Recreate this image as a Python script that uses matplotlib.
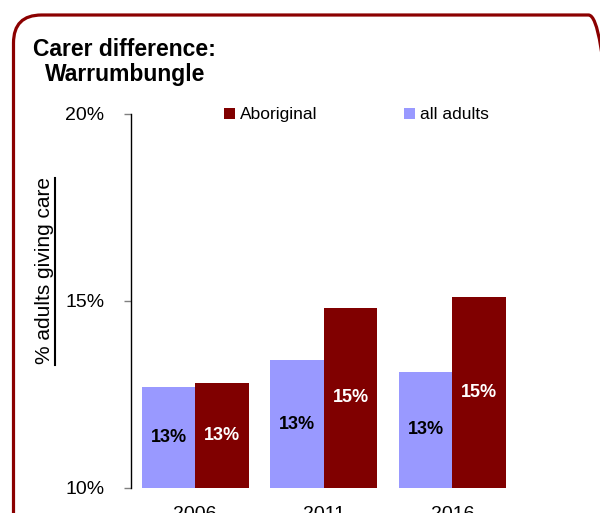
import matplotlib
matplotlib.use("Agg")
import matplotlib.pyplot as plt
from matplotlib.patches import FancyBboxPatch
from matplotlib.lines import Line2D
from matplotlib.transforms import IdentityTransform
import numpy as np

plt.rcParams['font.family'] = ['Liberation Sans', 'DejaVu Sans']

years = ["2006", "2011", "2016"]
all_adults = [12.7, 13.4, 13.1]
aboriginal = [12.8, 14.8, 15.1]
y_ticks = [10, 15, 20]

purple = "#9999FF"
maroon = "#800000"

W, H = 600, 513
fig = plt.figure(figsize=(W / 100, H / 100), dpi=100)

# rounded frame around the whole panel (pixel coordinates, origin bottom-left)
frame = FancyBboxPatch((13.5, H - 545), 603, 530,
                       boxstyle="round,pad=0,rounding_size=28",
                       transform=IdentityTransform(), fill=False,
                       edgecolor="#8B0000", linewidth=2.3, clip_on=False)
fig.patches.append(frame)

ax = fig.add_axes([131 / W, 25.3 / H, 385.5 / W, 374.2 / H])

x = np.arange(len(years))
w = 0.416
b1 = ax.bar(x - w / 2, [v - 10 for v in all_adults], w, bottom=10,
            color=purple, label="all adults")
b2 = ax.bar(x + w / 2, [v - 10 for v in aboriginal], w, bottom=10,
            color=maroon, label="Aboriginal")

for xi, v in zip(x - w / 2, all_adults):
    ax.text(xi, (10 + v) / 2, f"{v:.0f}%", ha="center", va="center",
            fontsize=13, fontweight="bold", color="black")
for xi, v in zip(x + w / 2, aboriginal):
    ax.text(xi, (10 + v) / 2, f"{v:.0f}%", ha="center", va="center",
            fontsize=13, fontweight="bold", color="white")

ax.set_xlim(-0.5, 2.5)
ax.set_ylim(10, 20)
ax.set_yticks(y_ticks)
ax.set_yticklabels([f"{t}%" for t in y_ticks], fontsize=14)
ax.set_xticks(x)
ax.set_xticklabels(years, fontsize=14)
ax.tick_params(axis="y", direction="out", length=5, width=1, color="#808080", pad=14)
ax.tick_params(axis="x", length=0, pad=13)
for s in ["top", "right", "bottom"]:
    ax.spines[s].set_visible(False)
ax.spines["left"].set_color("black")
ax.spines["left"].set_linewidth(1)

fig.legend(handles=[b2, b1], labels=["Aboriginal", "all adults"],
           loc="center left", bbox_to_anchor=(224 / W, 1 - 115 / H),
           ncol=2, frameon=False, fontsize=12.5, handlelength=0.65,
           handleheight=0.65, handletextpad=0.25, columnspacing=5.0,
           borderpad=0, borderaxespad=0)

fig.text(33 / W, 1 - 50 / H, "Carer difference:", fontsize=16.5,
         fontweight="bold", ha="left", va="center")
fig.text(45 / W, 1 - 75 / H, "Warrumbungle", fontsize=16.5,
         fontweight="bold", ha="left", va="center")

ylab = fig.text(45 / W, 1 - 271 / H, "% adults giving care", fontsize=15,
                rotation=90, ha="center", va="center")
fig.canvas.draw()
bb = ylab.get_window_extent().transformed(fig.transFigure.inverted())
fig.lines.append(Line2D([bb.x1 + 0.3 / W, bb.x1 + 0.3 / W], [bb.y0, bb.y1],
                        transform=fig.transFigure, color="black", linewidth=1.5))

fig.savefig("out.png", dpi=100)
